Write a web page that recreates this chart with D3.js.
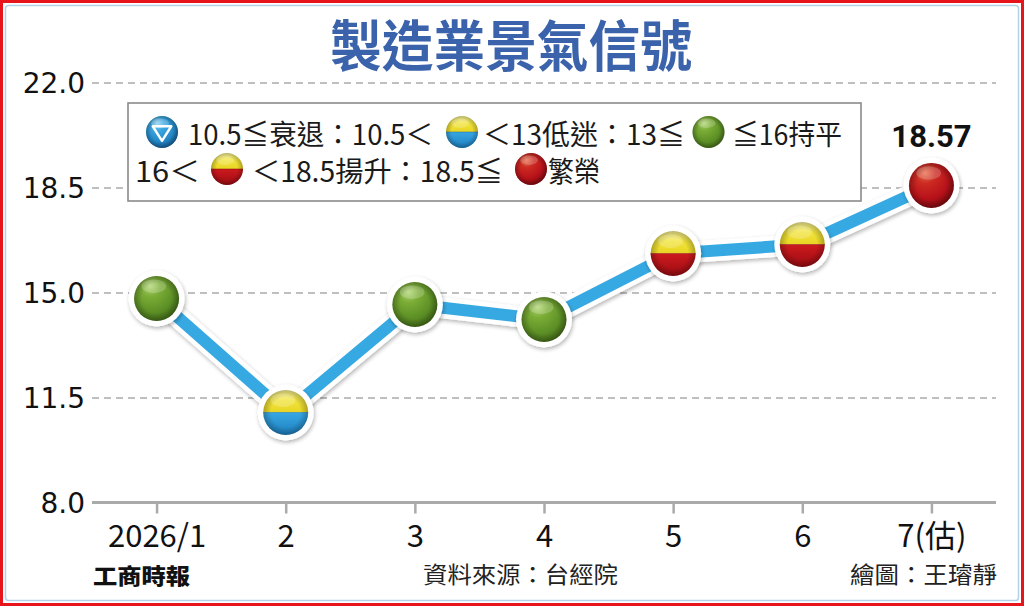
<!DOCTYPE html>
<html><head><meta charset="utf-8">
<script src="https://cdn.jsdelivr.net/npm/d3@7"></script>
<style>
html,body{margin:0;padding:0;background:#fff;}
svg{display:block;}
</style></head><body>
<svg id="chart" width="1024" height="606"></svg>
<script>
// ---------------- data ----------------
const categories = ["2026/1", "2", "3", "4", "5", "6", "7(估)"];
const values = [14.8, 11.0, 14.6, 14.1, 16.3, 16.6, 18.57];
const yTicks = [8.0, 11.5, 15.0, 18.5, 22.0];
const labeledPoints = [6];
const titleText = "製造業景氣信號";
const sourceText = "資料來源：台經院";
const creditText = "繪圖：王璿靜";
const brandText = "工商時報";
const legendRow1 = [
  {icon: "blue"}, {text: "10.5≦衰退：10.5＜"}, {icon: "yb"},
  {text: "＜13低迷：13≦"}, {icon: "green"}, {text: "≦16持平"}
];
const legendRow2 = [
  {text: "16＜"}, {icon: "yr"}, {text: "＜18.5揚升：18.5≦"},
  {icon: "red"}, {text: "繁榮"}
];

// ---------------- layout (style only) ----------------
// [x, width] for texts; [centerX] for icons, in reading order
const legendLayout1 = [[162], [188, 245], [462], [483, 202], [708.5], [732, 110]];
const legendLayout2 = [[135, 65], [227], [252, 251], [531], [548, 52]];

// ---------------- helpers ----------------
function signal(v) {
  if (v <= 10.5) return "blue";
  if (v < 13) return "yb";
  if (v <= 16) return "green";
  if (v < 18.5) return "yr";
  return "red";
}

const svg = d3.select("#chart");
const W = 1024, H = 606;
const plot = {left: 92, right: 996, top: 82.5, bottom: 502.5};
const cjk = "'Noto Sans CJK TC','Noto Sans CJK SC',sans-serif";

const x = d3.scalePoint().domain(categories).range([plot.left, plot.right]).padding(0.5);
const y = d3.scaleLinear().domain([8, 22]).range([plot.bottom, plot.top]);

// ---------------- defs ----------------
const defs = svg.append("defs");
function radial(id, stops, cx = "38%", cy = "28%", r = "75%", fx = "36%", fy = "22%") {
  const g = defs.append("radialGradient").attr("id", id)
    .attr("cx", cx).attr("cy", cy).attr("r", r).attr("fx", fx).attr("fy", fy);
  stops.forEach(s => g.append("stop").attr("offset", s[0]).attr("stop-color", s[1]).attr("stop-opacity", s[2] === undefined ? 1 : s[2]));
}
function linear(id, stops) {
  const g = defs.append("linearGradient").attr("id", id).attr("x1", 0).attr("y1", 0).attr("x2", 0).attr("y2", 1);
  stops.forEach(s => g.append("stop").attr("offset", s[0]).attr("stop-color", s[1]));
}
radial("g-green", [[0, "#b2d775"], [0.3, "#7aac36"], [0.7, "#5e9126"], [1, "#47721b"]]);
radial("g-red", [[0, "#e8704e"], [0.3, "#cc2a22"], [0.7, "#b8121a"], [1, "#860a10"]]);
radial("g-blue", [[0, "#8fd2f4"], [0.3, "#3aa6e0"], [0.7, "#2489c9"], [1, "#16639c"]]);
linear("g-yellow", [[0, "#faf49a"], [0.45, "#f2e43e"], [1, "#e8d522"]]);
linear("g-redhalf", [[0, "#cc1a1e"], [1, "#9c0c12"]]);
linear("g-bluehalf", [[0, "#38a7e2"], [1, "#1d7fc0"]]);
radial("g-shade", [[0, "#000", 0], [0.65, "#000", 0], [1, "#000", 0.26]], "50%", "50%", "50%", "50%", "50%");

const shadow = defs.append("filter").attr("id", "shadow")
  .attr("x", "-30%").attr("y", "-30%").attr("width", "160%").attr("height", "160%");
shadow.append("feGaussianBlur").attr("in", "SourceAlpha").attr("stdDeviation", 2.2).attr("result", "b");
shadow.append("feOffset").attr("in", "b").attr("dx", 1).attr("dy", 2).attr("result", "o");
shadow.append("feComponentTransfer").attr("in", "o").attr("result", "s")
  .append("feFuncA").attr("type", "linear").attr("slope", 0.3);
const m = shadow.append("feMerge");
m.append("feMergeNode").attr("in", "s");
m.append("feMergeNode").attr("in", "SourceGraphic");

const arcTop = r => d3.arc()({innerRadius: 0, outerRadius: r, startAngle: -Math.PI / 2, endAngle: Math.PI / 2});
const arcBot = r => d3.arc()({innerRadius: 0, outerRadius: r, startAngle: Math.PI / 2, endAngle: Math.PI * 1.5});

function drawBall(g, cx, cy, r, type) {
  const b = g.append("g").attr("transform", `translate(${cx},${cy})`);
  if (type === "yb" || type === "yr") {
    b.append("path").attr("d", arcTop(r)).attr("fill", "url(#g-yellow)");
    b.append("path").attr("d", arcBot(r)).attr("fill", type === "yr" ? "url(#g-redhalf)" : "url(#g-bluehalf)");
    b.append("line").attr("x1", -r).attr("x2", r).attr("y1", 0).attr("y2", 0)
      .attr("stroke", type === "yr" ? "#8a1010" : "#1a6ea8").attr("stroke-opacity", 0.5).attr("stroke-width", 1);
  } else {
    b.append("circle").attr("r", r).attr("fill", `url(#g-${type})`);
  }
  b.append("circle").attr("r", r).attr("fill", "url(#g-shade)");
  b.append("ellipse").attr("cx", -r * 0.12).attr("cy", -r * 0.55).attr("rx", r * 0.55).attr("ry", r * 0.3)
    .attr("fill", "#fff").attr("fill-opacity", 0.2);
  if (type === "blue") {
    const s = r * 0.58;
    b.append("path")
      .attr("d", `M${-s},${-s * 0.62}L${s},${-s * 0.62}L0,${s * 0.95}Z`)
      .attr("fill", "none").attr("stroke", "#fff").attr("stroke-width", 2.4).attr("stroke-linejoin", "round");
  }
  return b;
}

// ---------------- frame ----------------
svg.append("rect").attr("x", 0).attr("y", 0).attr("width", W).attr("height", H).attr("fill", "#fff");
svg.append("rect").attr("x", 1.5).attr("y", 1.5).attr("width", W - 3).attr("height", H - 3)
  .attr("fill", "none").attr("stroke", "#e8141c").attr("stroke-width", 3);
svg.append("rect").attr("x", 5.5).attr("y", 5.5).attr("width", W - 11).attr("height", H - 11).attr("rx", 3)
  .attr("fill", "none").attr("stroke", "#b3d2ea").attr("stroke-width", 1.5);

// ---------------- title ----------------
svg.append("text").attr("x", 511).attr("y", 66).attr("text-anchor", "middle")
  .attr("font-family", cjk).attr("font-weight", 700).attr("font-size", 55)
  .attr("fill", "#3b63ac").attr("textLength", 362).attr("lengthAdjust", "spacingAndGlyphs")
  .text(titleText);

// ---------------- y axis / grid ----------------
const yAxis = svg.append("g").attr("transform", `translate(${plot.left},0)`)
  .call(d3.axisLeft(y).tickValues(yTicks).tickFormat(d3.format(".1f"))
    .tickSizeInner(-(plot.right - plot.left)).tickSizeOuter(0).tickPadding(7));
yAxis.select(".domain").remove();
yAxis.selectAll(".tick line")
  .attr("stroke", "#aaaaaa").attr("stroke-width", 1.6).attr("stroke-dasharray", "7,5")
  .filter(d => d === 8).remove();
yAxis.selectAll(".tick text")
  .attr("font-family", "'DejaVu Sans',sans-serif").attr("font-size", 28).attr("fill", "#111")
  .attr("dy", "0.36em");

// ---------------- x axis ----------------
const xAxis = svg.append("g").attr("transform", `translate(0,${plot.bottom})`)
  .call(d3.axisBottom(x).tickSizeInner(11).tickSizeOuter(0).tickPadding(11));
xAxis.select(".domain").remove();
xAxis.selectAll(".tick line").attr("stroke", "#aaaaaa").attr("stroke-width", 2.5);
xAxis.selectAll(".tick text")
  .attr("font-family", cjk).attr("font-size", 31).attr("fill", "#111");
svg.append("line").attr("x1", plot.left).attr("x2", plot.right)
  .attr("y1", plot.bottom).attr("y2", plot.bottom)
  .attr("stroke", "#aaaaaa").attr("stroke-width", 3);

// ---------------- legend ----------------
const legend = svg.append("g");
legend.append("rect").attr("x", 128).attr("y", 103).attr("width", 733).attr("height", 98)
  .attr("fill", "#fff").attr("stroke", "#8a8a8a").attr("stroke-width", 1.6);
function layoutRow(items, layout, baseline, iconY) {
  items.forEach((it, i) => {
    const L = layout[i];
    if (it.icon) {
      drawBall(legend, L[0], iconY, 16, it.icon);
    } else {
      legend.append("text").attr("x", L[0]).attr("y", baseline)
        .attr("font-family", cjk).attr("font-size", 28).attr("fill", "#1a1a1a")
        .attr("textLength", L[1]).attr("lengthAdjust", "spacingAndGlyphs").text(it.text);
    }
  });
}
layoutRow(legendRow1, legendLayout1, 145, 132);
layoutRow(legendRow2, legendLayout2, 182, 169);

// ---------------- line ----------------
const line = d3.line().x((d, i) => x(categories[i])).y(d => y(d));
const marks = svg.append("g");
marks.append("path").datum(values).attr("d", line)
  .attr("fill", "none").attr("stroke", "#fff").attr("stroke-width", 21)
  .attr("stroke-linejoin", "round").attr("filter", "url(#shadow)");
marks.append("path").datum(values).attr("d", line)
  .attr("fill", "none").attr("stroke", "#37a9e2").attr("stroke-width", 12)
  .attr("stroke-linejoin", "round");

marks.selectAll("circle.halo").data(values).join("circle").attr("class", "halo")
  .attr("cx", (d, i) => x(categories[i])).attr("cy", d => y(d)).attr("r", 28)
  .attr("fill", "#fff").attr("filter", "url(#shadow)");
values.forEach((v, i) => drawBall(marks, x(categories[i]), y(v), 22.5, signal(v)));

// ---------------- value label ----------------
svg.selectAll("text.vlabel").data(labeledPoints).join("text").attr("class", "vlabel")
  .attr("x", i => x(categories[i])).attr("y", i => y(values[i]) - 38)
  .attr("text-anchor", "middle").attr("font-family", "Roboto,sans-serif")
  .attr("font-weight", 700).attr("font-size", 31).attr("fill", "#111")
  .text(i => values[i].toFixed(2));

// ---------------- footer ----------------
svg.append("text").attr("x", 93).attr("y", 584)
  .attr("font-family", cjk).attr("font-weight", 900).attr("font-size", 22).attr("fill", "#111")
  .attr("textLength", 97).attr("lengthAdjust", "spacingAndGlyphs").text(brandText);
svg.append("text").attr("x", 423).attr("y", 583)
  .attr("font-family", cjk).attr("font-size", 23).attr("fill", "#222")
  .attr("textLength", 195).attr("lengthAdjust", "spacingAndGlyphs").text(sourceText);
svg.append("text").attr("x", 850).attr("y", 583)
  .attr("font-family", cjk).attr("font-size", 23).attr("fill", "#222")
  .attr("textLength", 147).attr("lengthAdjust", "spacingAndGlyphs").text(creditText);
</script>
</body></html>
